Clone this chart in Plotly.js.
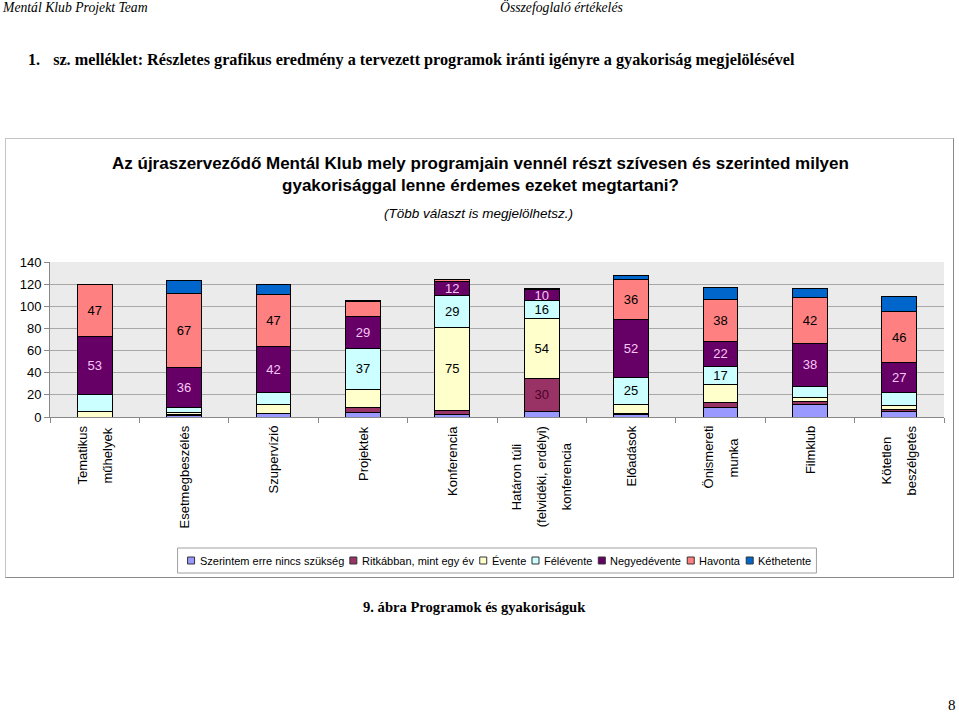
<!DOCTYPE html>
<html><head><meta charset="utf-8">
<script src="https://cdn.plot.ly/plotly-3.0.1.min.js"></script>
<style>
body{margin:0;background:#fff;}
#page{position:relative;width:959px;height:713px;overflow:hidden;font-family:"Liberation Serif","Times New Roman",serif;color:#000;}
.hdr{position:absolute;font-style:italic;font-size:13.7px;white-space:nowrap;}
#box{position:absolute;left:5px;top:138px;width:949px;height:440px;box-sizing:border-box;border:1px solid #c4c4c4;border-right-color:#8a8a8a;border-bottom-color:#8a8a8a;}
#chart{width:947px;height:438px;}
</style></head>
<body><div id="page">
<div class="hdr" style="left:3px;top:0px;">Mentál Klub Projekt Team</div>
<div class="hdr" style="left:500px;top:0px;">Összefoglaló értékelés</div>
<div style="position:absolute;left:28px;top:51px;font-weight:bold;font-size:16.2px;white-space:nowrap;">1.<span style="display:inline-block;width:13px"></span>sz. melléklet: Részletes grafikus eredmény a tervezett programok iránti igényre a gyakoriság megjelölésével</div>
<div id="box"><div id="chart"></div></div>
<div style="position:absolute;left:363px;top:599px;font-weight:bold;font-size:14.6px;white-space:nowrap;">9. ábra Programok és gyakoriságuk</div>
<div style="position:absolute;left:948px;top:697px;font-size:15px;">8</div>
</div>
<script>
// ---- data ----
const catLines = [
  ['Tematikus','műhelyek'],
  ['Esetmegbeszélés'],
  ['Szupervízió'],
  ['Projektek'],
  ['Konferencia'],
  ['Határon túli','(felvidéki, erdélyi)','konferencia'],
  ['Előadások'],
  ['Önismereti','munka'],
  ['Filmklub'],
  ['Kötetlen','beszélgetés']
];
const categories = catLines.map(l => l.join(' '));

const seriesNames = ['Szerintem erre nincs szükség','Ritkábban, mint egy év','Évente','Félévente','Negyedévente','Havonta','Kéthetente'];
const szerintem   = [0, 1, 3, 4, 2, 5, 2, 9, 11, 5];
const ritkabban   = [0, 1, 0, 5, 4, 30, 1, 4, 3, 2];
const evente      = [5, 2, 8, 16, 75, 54, 8, 16, 4, 3];
const felevente   = [15, 5, 11, 37, 29, 16, 25, 17, 10, 12];
const negyedevente= [53, 36, 42, 29, 12, 10, 52, 22, 38, 27];
const havonta     = [47, 67, 47, 13, 2, 1, 36, 38, 42, 46];
const kethetente  = [0, 11, 9, 1, 0, 0, 4, 11, 8, 14];

// which values carry a data label in the original (1 = shown)
const showSzerintem = [0,0,0,0,0,0,0,0,0,0];
const showRitkabban = [0,0,0,0,0,1,0,0,0,0];
const showEvente    = [0,0,0,0,1,1,0,0,0,0];
const showFelevente = [0,0,0,1,1,1,1,1,0,0];
const showNegyed    = [1,1,1,1,1,1,1,1,1,1];
const showHavonta   = [1,1,1,0,0,0,1,1,1,1];
const showKet       = [0,0,0,0,0,0,0,0,0,0];

const yTicks = [0,20,40,60,80,100,120,140];
const titleMain = 'Az újraszerveződő Mentál Klub mely programjain vennél részt szívesen és szerinted milyen<br>gyakorisággal lenne érdemes ezeket megtartani?';
const titleSub = '(Több választ is megjelölhetsz.)';

// ---- styles ----
const colors = ['#9999FF','#993366','#FFFFCC','#CCFFFF','#660066','#FF8080','#0066CC'];
const labelColors = ['#000','#4d0026','#000','#000','#F6C8F6','#000','#fff'];
const allVals = [szerintem, ritkabban, evente, felevente, negyedevente, havonta, kethetente];
const allShow = [showSzerintem, showRitkabban, showEvente, showFelevente, showNegyed, showHavonta, showKet];

const sans = '"Liberation Sans", Arial, sans-serif';
const narrow = '"Liberation Sans Narrow", "Arial Narrow", "Liberation Sans", Arial, sans-serif';

const traces = allVals.map((vals, k) => ({
  type: 'bar',
  name: seriesNames[k],
  x: categories,
  y: vals,
  text: vals.map((v, i) => allShow[k][i] ? String(v) : ''),
  textposition: 'inside',
  insidetextanchor: 'middle',
  textangle: 0,
  constraintext: 'none',
  textfont: {family: sans, size: 13, color: labelColors[k]},
  marker: {color: colors[k], line: {color: '#000', width: 1}},
  hoverinfo: 'skip',
  showlegend: false
}));

// geometry helpers (plot area: abs x 50..944, y 262..417)
const PX0 = 50, PW = 894, PY0 = 417, PH = 155;
const px = ax => (ax - PX0) / PW;
const py = ay => (PY0 - ay) / PH;

const cv = document.createElement('canvas').getContext('2d');
function tw(text, font) { cv.font = font; return cv.measureText(text).width; }

const annotations = [];
const shapes = [];

// title
annotations.push({xref:'paper', yref:'paper', x: px(480), y: py(174.5), xanchor:'center', yanchor:'middle',
  text: '<b>' + titleMain + '</b>', showarrow:false, font:{family: narrow, size:17, color:'#000'}, align:'center'});
annotations.push({xref:'paper', yref:'paper', x: px(478), y: py(213), xanchor:'center', yanchor:'middle',
  text: '<i>' + titleSub + '</i>', showarrow:false, font:{family: narrow, size:13.5, color:'#000'}});

// category labels (rotated, centered lines)
const catFont = '13px "Liberation Sans"';
catLines.forEach((lines, i) => {
  const maxW = Math.max(...lines.map(l => tw(l, catFont)));
  const n = lines.length;
  lines.forEach((l, j) => {
    annotations.push({xref:'x', yref:'paper', x: i, y: 0, xanchor:'center', yanchor:'middle',
      xshift: (j - (n - 1) / 2) * 25, yshift: -(9 + maxW / 2),
      textangle: -90, text: l, showarrow:false, font:{family: sans, size:13, color:'#000'}});
  });
});

// legend (custom, compact like the original)
const legFont = '11px "Liberation Sans"';
const sq = 7, gapSqText = 4, gapItem = 7;
const widths = seriesNames.map(n => tw(n, legFont));
const total = widths.reduce((a, w) => a + sq + gapSqText + w, 0) + gapItem * (seriesNames.length - 1);
let cx = 499 - total / 2;
const legY = 560.5;
shapes.push({type:'rect', xref:'paper', yref:'paper', x0: px(cx - 10), x1: px(cx + total + 6), y0: py(548), y1: py(573),
  line:{color:'#a0a0a0', width:1}, fillcolor:'#fff', layer:'below'});
seriesNames.forEach((n, k) => {
  shapes.push({type:'rect', xref:'paper', yref:'paper', x0: px(cx), x1: px(cx + sq), y0: py(legY + sq/2), y1: py(legY - sq/2),
    line:{color:'#333', width:1}, fillcolor: colors[k], layer:'above'});
  annotations.push({xref:'paper', yref:'paper', x: px(cx + sq + gapSqText), y: py(legY), xanchor:'left', yanchor:'middle',
    text: n, showarrow:false, borderpad:0, font:{family: sans, size:11, color:'#000'}});
  cx += sq + gapSqText + widths[k] + gapItem;
});

const layout = {
  width: 947, height: 438,
  margin: {l: 44, r: 9, t: 123, b: 160, pad: 0},
  paper_bgcolor: '#fff',
  plot_bgcolor: '#EBEBEB',
  barmode: 'stack',
  bargap: 0.61,
  showlegend: false,
  font: {family: sans, size: 13, color: '#000'},
  xaxis: {type:'category', range:[-0.5, 9.5], showticklabels:false, ticks:'outside', tickson:'boundaries',
    ticklen:5, tickcolor:'#888', showline:true, linecolor:'#888', linewidth:1, showgrid:false, fixedrange:true},
  yaxis: {range:[0,140], tickvals: yTicks, ticktext: yTicks.map(String), ticks:'outside', ticklen:5, tickcolor:'#888',
    showline:true, linecolor:'#888', linewidth:1, gridcolor:'#A8A8A8', gridwidth:1, zeroline:false,
    tickfont:{family: sans, size:13, color:'#000'}, fixedrange:true},
  annotations, shapes
};

Plotly.newPlot('chart', traces, layout, {displayModeBar:false, staticPlot:true});
</script>
</body></html>
